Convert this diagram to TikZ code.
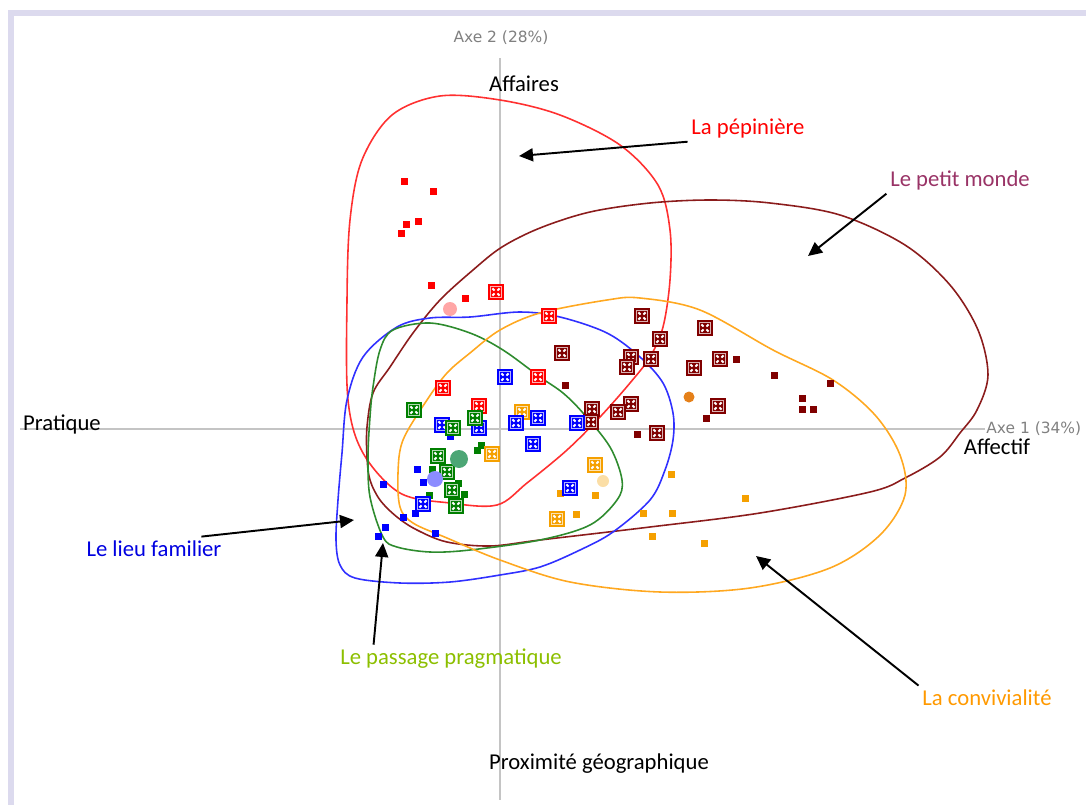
\documentclass[tikz,border=0pt]{standalone}
\usepackage{fontspec}
\setmainfont{Carlito}
\newfontfamily\axisfont{DejaVu Sans}
\usepackage{tikz}
\usetikzlibrary{arrows.meta}

\definecolor{frame}{HTML}{DCDAEE}
\definecolor{axisgray}{HTML}{C4C4C4}
\definecolor{axistext}{HTML}{808080}
\definecolor{cred}{HTML}{FF3030}
\definecolor{cbrown}{HTML}{8B1C1C}
\definecolor{cblue}{HTML}{3030FF}
\definecolor{cgreen}{HTML}{2E8B2E}
\definecolor{corange}{HTML}{FFA820}
\definecolor{mred}{HTML}{FF0000}
\definecolor{mbrown}{HTML}{800000}
\definecolor{mblue}{HTML}{0000FF}
\definecolor{mgreen}{HTML}{007F00}
\definecolor{morange}{HTML}{F5A000}
\definecolor{tmonde}{HTML}{993366}
\definecolor{tlieu}{HTML}{0000E0}
\definecolor{tpassage}{HTML}{8CBF00}
\definecolor{tconv}{HTML}{FF9900}

\tikzset{
  smark/.style={rectangle, fill=#1, minimum size=0.14cm, inner sep=0pt},
  bmark/.style={rectangle, fill=#1, minimum size=0.32cm, inner sep=0pt,
    path picture={
      \draw[white!70!#1, line width=0.3pt]
        ([shift={(1.3pt,1.3pt)}]path picture bounding box.south west) rectangle
        ([shift={(-1.3pt,-1.3pt)}]path picture bounding box.north east);
      \foreach \a in {45,135,225,315}
        \draw[white, line width=1.1pt]
          ([shift={(\a:1.2pt)}]path picture bounding box.center) --
          ([shift={(\a:2.9pt)}]path picture bounding box.center);
    }},
  centre/.style={circle, fill=#1, inner sep=0pt},
  curve/.style={line width=0.9pt, #1},
  lbl/.style={font=\fontsize{12.9}{15}\selectfont, anchor=mid, inner sep=2pt},
  axlbl/.style={font=\axisfont\fontsize{8.8}{10}\selectfont, text=axistext, inner sep=0pt},
  arr/.style={-{Triangle[length=2.8mm,width=2.6mm]}, line width=1.1pt}
}

\begin{document}
\begin{tikzpicture}[x=0.02cm, y=-0.02cm]
  \useasboundingbox (0,0) rectangle (1086,805);
  % Frame
  \fill[frame] (8,10) rectangle (1086,16);
  \fill[frame] (8,10) rectangle (14,805);
  % Axes
  \draw[axisgray, line width=0.8pt] (500,58) -- (500,800);
  \draw[axisgray, line width=0.8pt] (20,429) -- (985,429);
  \node[axlbl] (ax2) at (501,38) {Axe 2 (28\%)};
  \node[axlbl, anchor=west] (ax1) at (986,429) {Axe 1 (34\%)};

  % Groups
  \draw[curve=cred] plot[smooth cycle, tension=0.55] coordinates {
    (440,96) (392,115) (362,160) (350,220) (347,300) (348,400) (363,453)
    (400,493) (450,503) (497,505) (527,483) (567,450) (600,417) (630,383)
    (650,357) (663,327) (670,280) (670,230) (658,185) (620,145) (560,115) (500,100)};
  \draw[curve=cbrown] plot[smooth cycle, tension=0.55] coordinates {
    (367,457) (367,427) (373,393) (390,367) (413,333) (440,300) (473,270)
    (502,247) (540,228) (590,212) (650,203) (710,200) (770,203) (840,215)
    (905,245) (950,285) (978,330) (988,375) (977,410) (960,433) (940,457)
    (905,478) (870,492) (760,513) (650,527) (540,540) (490,546) (447,542)
    (417,530) (397,517) (380,500) (370,480)};
  \draw[curve=cblue] plot[smooth cycle, tension=0.55] coordinates {
    (470,317) (430,318) (397,327) (363,357) (347,400) (342,453) (338,500)
    (336,540) (340,565) (355,578) (400,583) (450,582) (500,575) (540,567)
    (580,550) (613,532) (650,500) (665,470) (673,440) (673,413) (663,383)
    (640,357) (607,333) (560,317) (520,312)};
  \draw[curve=cgreen] plot[smooth cycle, tension=0.55] coordinates {
    (430,323) (470,333) (503,350) (540,377) (563,393) (583,413) (610,447)
    (622,480) (617,500) (590,525) (540,540) (470,550) (430,552) (397,547)
    (383,537) (370,497) (368,457) (370,417) (373,387) (380,350) (393,330)};
  \draw[curve=corange] plot[smooth cycle, tension=0.55] coordinates {
    (470,353) (447,373) (427,400) (403,440) (398,473) (400,507) (413,523)
    (447,538) (500,560) (570,582) (660,592) (750,588) (830,568) (880,535)
    (905,495) (900,455) (875,415) (833,380) (773,350) (700,310) (640,298)
    (607,300) (540,313) (500,330)};

  % Points
  \foreach \x/\y [count=\i] in {404/181, 433/191, 418/221, 406/224, 401/233, 431/285, 465/298}
    \node[smark=mred] (rs\i) at (\x,\y) {};
  \foreach \x/\y [count=\i] in {736/359, 774/375, 830/383, 565/385, 802/398, 802/409, 813/409, 706/418, 637/434}
    \node[smark=mbrown] (ms\i) at (\x,\y) {};
  \foreach \x/\y [count=\i] in {450/436, 417/469, 423/482, 415/513, 403/517, 383/484, 385/527, 378/536, 435/533}
    \node[smark=mblue] (bs\i) at (\x,\y) {};
  \foreach \x/\y [count=\i] in {481/445, 477/450, 432/469, 458/483, 464/494, 429/495}
    \node[smark=mgreen] (gs\i) at (\x,\y) {};
  \foreach \x/\y [count=\i] in {560/493, 595/495, 576/514, 671/474, 643/513, 672/513, 745/498, 652/536, 704/543}
    \node[smark=morange] (os\i) at (\x,\y) {};

  \foreach \x/\y [count=\i] in {642/316, 705/328, 660/339, 562/353, 631/357, 627/367, 651/359, 720/359,
                                694/368, 631/404, 618/412, 592/409, 718/406, 591/422, 657/433}
    \node[bmark=mbrown] (mb\i) at (\x,\y) {};
  \foreach \x/\y [count=\i] in {496/292, 549/316, 443/388, 479/406, 538/377}
    \node[bmark=mred] (rb\i) at (\x,\y) {};
  \foreach \x/\y [count=\i] in {522/412, 492/454, 595/465, 557/519}
    \node[bmark=morange] (ob\i) at (\x,\y) {};
  \foreach \x/\y [count=\i] in {505/377, 538/418, 442/425, 479/428, 516/423, 577/423, 533/444, 423/504, 570/488}
    \node[bmark=mblue] (bb\i) at (\x,\y) {};
  \foreach \x/\y [count=\i] in {414/410, 475/418, 453/428, 438/456, 447/472, 452/490, 456/506}
    \node[bmark=mgreen] (gb\i) at (\x,\y) {};

  % Centres
  \node[centre={mred!35}, minimum size=0.28cm] (rc) at (450,309) {};
  \node[centre={mgreen!55!teal!70!white}, minimum size=0.36cm] (gc) at (459,459) {};
  \node[centre={mblue!45!white}, minimum size=0.32cm] (bc) at (435,479) {};
  \node[centre={morange!35}, minimum size=0.24cm] (oc) at (603,481) {};
  \node[centre={orange!60!brown}, minimum size=0.22cm] (mc) at (689,397) {};

  % Labels
  \node[lbl] (aff) at (524,87) {Affaires};
  \node[lbl] (pra) at (62,426) {Pratique};
  \node[lbl] (afc) at (997,450) {Affectif};
  \node[lbl] (prox) at (599,765) {Proximité géographique};
  \node[lbl, text=mred] (pep) at (748,130) {La pépinière};
  \node[lbl, text=tmonde] (mon) at (960,182) {Le petit monde};
  \node[lbl, text=tlieu] (lieu) at (154,552) {Le lieu familier};
  \node[lbl, text=tpassage] (pp) at (451,660) {Le passage pragmatique};
  \node[lbl, text=tconv] (conv) at (987,701) {La convivialité};

  % Arrows
  \coordinate (pepTip) at (519,156);
  \coordinate (monTip) at (808,256);
  \coordinate (lieuTip) at (354,520);
  \coordinate (ppTip) at (383,543);
  \coordinate (convTip) at (756,556);
  \draw[arr] (pep.south west) -- (pepTip);
  \draw[arr] (mon.south west) -- (monTip);
  \draw[arr] (lieu.14) -- (lieuTip);
  \draw[arr] (pp.170) -- (ppTip);
  \draw[arr] (conv.north west) -- (convTip);
\end{tikzpicture}
\end{document}
